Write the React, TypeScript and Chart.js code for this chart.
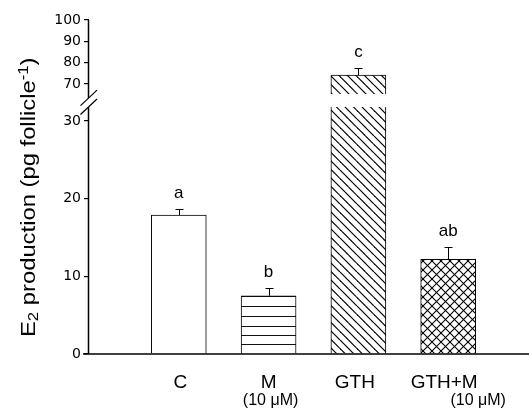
import React, { useEffect, useRef } from 'react';
import { Chart, registerables } from 'chart.js';

Chart.register(...registerables);

// ---- data ----
const categories = ['C', 'M', 'GTH', 'GTH+M'];
const subLabels = ['', '(10 μM)', '', '(10 μM)'];
const values = [17.9, 7.5, 74.2, 12.2];
const errors = [0.8, 1.05, 3.2, 1.6];
const letters = ['a', 'b', 'c', 'ab'];
const yTickValues = [0, 10, 20, 30, 70, 80, 90, 100];
const titleRuns = [
  { text: 'E', small: false, dy: 0 },
  { text: '2', small: true, dy: 2.5 },
  { text: ' production (pg follicle', small: false, dy: 0 },
  { text: '-1', small: true, dy: -7.5 },
  { text: ')', small: false, dy: 0 },
];

// ---- broken-axis mapping (layout) ----
const LOW_MAX = 31.8; // lower segment extends to this value
const HIGH_MIN_AXIS = 63.4; // upper segment axis starts here
const HIGH_MIN_BAR = 65.3; // upper part of broken bar starts here
const HIGH_BASE = 70;
const HIGH_BASE_V = 34.76;
const HIGH_RATIO = 0.2747;
const V_MAX = 43.0;
const SUB_LABEL_SHIFT = [0, 2, 0, 30];
const MAIN_LABEL_SHIFT = [1.5, 0, -3.5, -4];

function toV(v: number): number {
  return v <= LOW_MAX ? v : HIGH_BASE_V + (v - HIGH_BASE) * HIGH_RATIO;
}

function makePattern(kind: string): CanvasPattern | string {
  const c = document.createElement('canvas');
  const ctx = c.getContext('2d');
  if (!ctx) return '#fff';
  if (kind === 'h') {
    c.width = 8;
    c.height = 48;
    ctx.fillStyle = '#fff';
    ctx.fillRect(0, 0, 8, 48);
    ctx.fillStyle = '#111';
    [8, 18, 28, 38, 47].forEach((y) => ctx.fillRect(0, y, 8, 1));
  } else if (kind === 'd') {
    const s = 17;
    c.width = s;
    c.height = s;
    ctx.fillStyle = '#fff';
    ctx.fillRect(0, 0, s, s);
    ctx.strokeStyle = '#000';
    ctx.lineWidth = 1.2;
    for (let o = -s; o <= s; o += s / 2) {
      ctx.beginPath();
      ctx.moveTo(o, 0);
      ctx.lineTo(o + s, s);
      ctx.stroke();
    }
  } else {
    const s = 9;
    c.width = s;
    c.height = s;
    ctx.fillStyle = '#fff';
    ctx.fillRect(0, 0, s, s);
    ctx.strokeStyle = '#000';
    ctx.lineWidth = 1.1;
    for (let o = -s; o <= s; o += s) {
      ctx.beginPath();
      ctx.moveTo(o, 0);
      ctx.lineTo(o + s, s);
      ctx.stroke();
      ctx.beginPath();
      ctx.moveTo(o, s);
      ctx.lineTo(o + s, 0);
      ctx.stroke();
    }
  }
  return ctx.createPattern(c, 'repeat') || '#fff';
}

const decorPlugin = {
  id: 'decor',
  afterDatasetsDraw(chart: any) {
    const ctx: CanvasRenderingContext2D = chart.ctx;
    const yS = chart.scales.y;
    const xS = chart.scales.x;
    const meta = chart.getDatasetMeta(0);
    const area = chart.chartArea;
    ctx.save();

    // gap in broken bars
    values.forEach((v, i) => {
      if (v > LOW_MAX) {
        const el = meta.data[i];
        const top = yS.getPixelForValue(toV(HIGH_MIN_BAR));
        const bot = yS.getPixelForValue(LOW_MAX);
        ctx.fillStyle = '#fff';
        ctx.fillRect(el.x - el.width / 2 - 2, top, el.width + 4, bot - top);
      }
    });

    // error bars and letters
    ctx.strokeStyle = '#000';
    ctx.lineWidth = 1;
    values.forEach((v, i) => {
      const el = meta.data[i];
      const yBar = yS.getPixelForValue(toV(v));
      const yTop = Math.round(yS.getPixelForValue(toV(v + errors[i]))) + 0.5;
      const x = Math.round(el.x) + 0.5;
      ctx.beginPath();
      ctx.moveTo(x, yBar);
      ctx.lineTo(x, yTop);
      ctx.moveTo(x - 4, yTop);
      ctx.lineTo(x + 4, yTop);
      ctx.stroke();
      ctx.fillStyle = '#000';
      ctx.font = '17px "Liberation Sans", Arial, sans-serif';
      ctx.textAlign = 'center';
      ctx.textBaseline = 'alphabetic';
      ctx.fillText(letters[i], el.x, yTop - 12);
    });

    // broken y axis
    const ax = area.left - 0.5;
    const yUpTop = yS.getPixelForValue(V_MAX);
    const yUpBot = yS.getPixelForValue(toV(HIGH_MIN_AXIS));
    const yLowTop = yS.getPixelForValue(LOW_MAX);
    const yLowBot = yS.getPixelForValue(0);
    ctx.lineWidth = 1.5;
    ctx.beginPath();
    ctx.moveTo(ax, yUpTop);
    ctx.lineTo(ax, yUpBot);
    ctx.moveTo(ax, yLowTop);
    ctx.lineTo(ax, yLowBot);
    ctx.stroke();
    ctx.lineWidth = 1.2;
    [yUpBot, yLowTop].forEach((yc) => {
      ctx.beginPath();
      ctx.moveTo(ax - 8, yc + 7.5);
      ctx.lineTo(ax + 8.5, yc - 8);
      ctx.stroke();
    });

    // x axis line
    ctx.lineWidth = 1.5;
    ctx.beginPath();
    ctx.moveTo(area.left - 6, yLowBot);
    ctx.lineTo(area.right, yLowBot);
    ctx.stroke();

    // x labels
    ctx.fillStyle = '#000';
    ctx.textAlign = 'center';
    ctx.textBaseline = 'alphabetic';
    categories.forEach((c, i) => {
      const x = xS.getPixelForValue(i);
      ctx.font = '19px "Liberation Sans", Arial, sans-serif';
      ctx.fillText(c, x + MAIN_LABEL_SHIFT[i], yLowBot + 34);
      if (subLabels[i]) {
        ctx.font = '16px "Liberation Sans", Arial, sans-serif';
        ctx.fillText(subLabels[i], x + SUB_LABEL_SHIFT[i], yLowBot + 51);
      }
    });

    // y title
    ctx.save();
    ctx.translate(35, 337);
    ctx.rotate(-Math.PI / 2);
    ctx.scale(1.19, 1);
    ctx.textAlign = 'left';
    let tx = 0;
    titleRuns.forEach((r) => {
      ctx.font = (r.small ? '14px' : '20px') + ' "Liberation Sans", Arial, sans-serif';
      ctx.fillText(r.text, tx, r.dy);
      tx += ctx.measureText(r.text).width;
    });
    ctx.restore();

    ctx.restore();
  },
};

export default function App() {
  const ref = useRef<HTMLCanvasElement>(null);
  useEffect(() => {
    if (!ref.current) return;
    const fills = [
      '#ffffff',
      makePattern('h'),
      makePattern('d'),
      makePattern('x'),
    ];
    const chart = new Chart(ref.current, {
      type: 'bar',
      data: {
        datasets: [
          {
            data: values.map((v, i) => ({ x: i, y: toV(v) })),
            backgroundColor: fills as any,
            borderColor: '#000',
            borderWidth: 1,
            barThickness: 55,
          },
        ],
      },
      options: {
        animation: false,
        responsive: false,
        devicePixelRatio: 1,
        layout: { padding: { top: 20, bottom: 62, left: 0, right: 0 } },
        plugins: {
          legend: { display: false },
          tooltip: { enabled: false },
          title: { display: false },
        },
        scales: {
          x: {
            type: 'linear',
            min: -1,
            max: 3.9,
            offset: false,
            grid: { offset: false },
            display: false,
          },
          y: {
            type: 'linear',
            min: 0,
            max: V_MAX,
            bounds: 'data',
            afterBuildTicks: (s: any) => {
              s.ticks = yTickValues.map((v) => ({ value: toV(v) }));
            },
            afterFit: (s: any) => {
              s.width = 89;
            },
            border: { display: false },
            grid: {
              display: true,
              drawOnChartArea: false,
              drawTicks: true,
              tickLength: 5,
              color: '#000',
              lineWidth: 1.2,
            },
            ticks: {
              autoSkip: false,
              padding: 3,
              color: '#000',
              font: { family: '"DejaVu Sans"', size: 14 },
              callback: (_v: any, idx: number) => String(yTickValues[idx]),
            },
          },
        },
      },
      plugins: [decorPlugin],
    } as any);
    return () => chart.destroy();
  }, []);
  return (
    <div style={{ position: 'fixed', left: 0, top: 0, width: 529, height: 416, background: '#fff' }}>
      <canvas ref={ref} width={529} height={416} style={{ display: 'block', width: 529, height: 416 }} />
    </div>
  );
}
